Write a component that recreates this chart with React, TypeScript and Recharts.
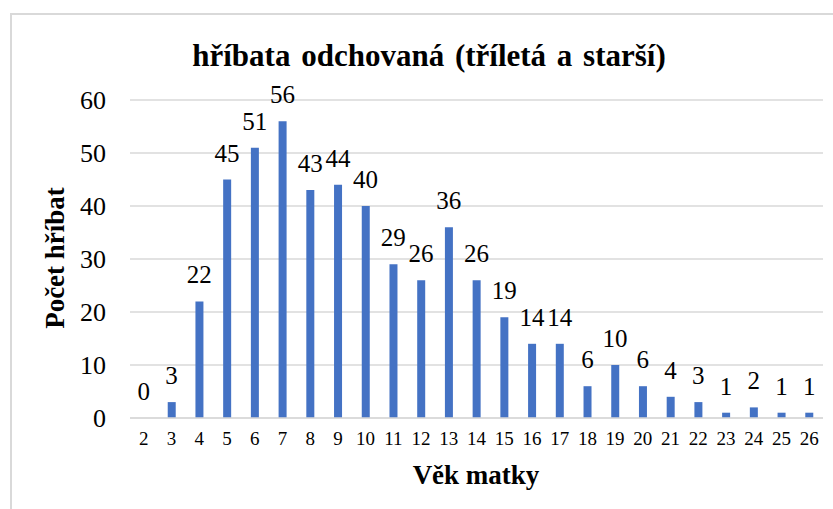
import { Bar, CartesianGrid, ComposedChart, LabelList, Line, XAxis, YAxis } from "recharts";

const ages = ["2", "3", "4", "5", "6", "7", "8", "9", "10", "11", "12", "13", "14", "15", "16", "17", "18", "19", "20", "21", "22", "23", "24", "25", "26"];
const foals = [0, 3, 22, 45, 51, 56, 43, 44, 40, 29, 26, 36, 26, 19, 14, 14, 6, 10, 6, 4, 3, 1, 2, 1, 1];
const yTicks = [0, 10, 20, 30, 40, 50, 60];

const data = ages.map((age, i) => ({ age, value: foals[i] }));

const serif = "Liberation Serif";

const renderValue = (props: any) => {
  const { x, y, value } = props;
  return (
    <text x={Number(x)} y={Number(y) - 18} textAnchor="middle" fill="#000" fontSize={25} style={{ fontFamily: serif }}>
      {value}
    </text>
  );
};

export default function App() {
  return (
    <div style={{ position: "fixed", left: 0, top: 0, width: 833, height: 509, background: "#fff", overflow: "hidden", fontFamily: serif }}>
      <div style={{ position: "absolute", left: 10, top: 13, width: 840, height: 520, border: "2px solid #d9d9d9", boxSizing: "border-box" }} />
      <div style={{ position: "absolute", left: 0, width: 858, top: 56, transform: "translateY(-50%)", textAlign: "center", fontSize: 31, fontWeight: "bold", color: "#000", wordSpacing: 3 }}>
        hříbata odchovaná (tříletá a starší)
      </div>
      <div style={{ position: "absolute", left: 55, top: 258, transform: "translate(-50%, -50%) rotate(-90deg)", whiteSpace: "nowrap", fontSize: 27, fontWeight: "bold" }}>
        Počet hříbat
      </div>
      <div style={{ position: "absolute", left: 476, top: 475, transform: "translate(-50%, -50%)", whiteSpace: "nowrap", fontSize: 27, fontWeight: "bold" }}>
        Věk matky
      </div>
      <div style={{ position: "absolute", left: 0, top: 0 }}>
        <ComposedChart width={833} height={509} data={data} margin={{ top: 100, right: 10, bottom: 61, left: 70 }}>
          <CartesianGrid vertical={false} stroke="#d9d9d9" strokeWidth={1.5} />
          <XAxis
            dataKey="age"
            height={30}
            axisLine={{ stroke: "#d9d9d9", strokeWidth: 1.5 }}
            tickLine={false}
            interval={0}
            tick={{ fill: "#000", fontSize: 19, fontFamily: serif }}
            tickMargin={8}
          />
          <YAxis
            width={60}
            domain={[0, 60]}
            ticks={yTicks}
            axisLine={false}
            tickLine={false}
            tick={{ fill: "#000", fontSize: 26, fontFamily: serif }}
            tickMargin={18}
          />
          <Bar dataKey="value" fill="#4472c4" barSize={8} isAnimationActive={false} />
          <Line dataKey="value" stroke="none" dot={false} activeDot={false} isAnimationActive={false}>
            <LabelList dataKey="value" content={renderValue} />
          </Line>
        </ComposedChart>
      </div>
    </div>
  );
}
